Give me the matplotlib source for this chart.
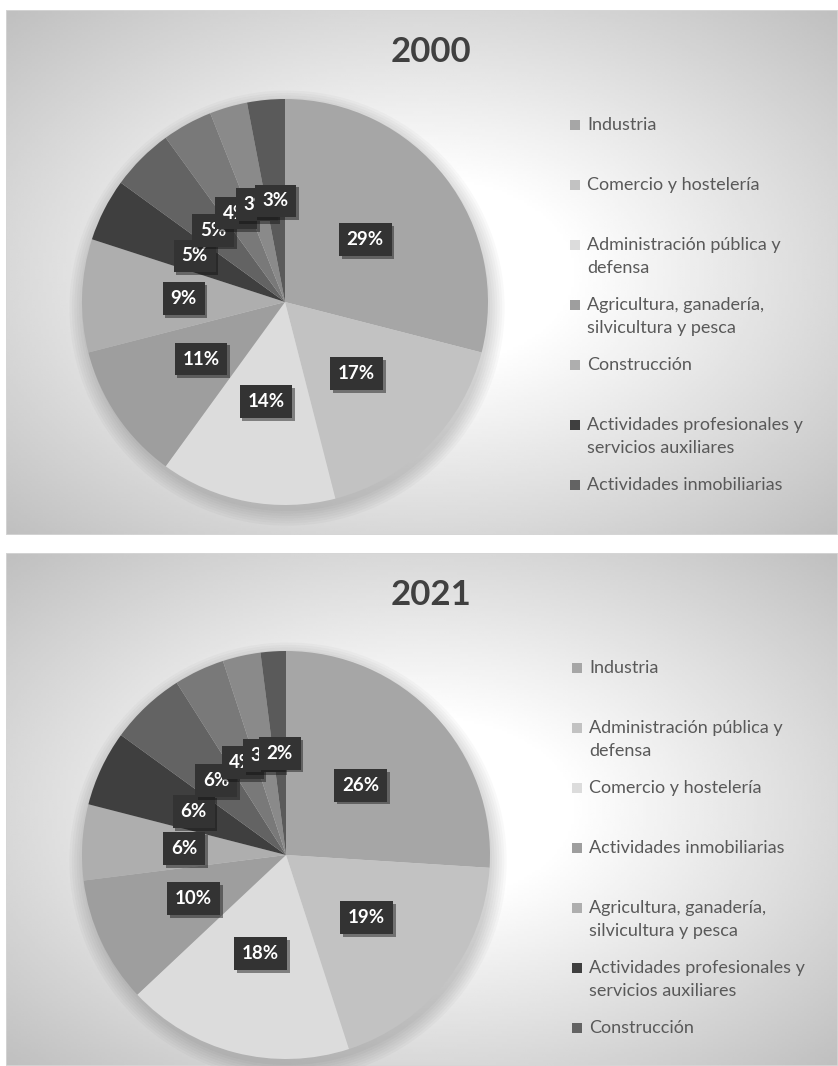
import numpy as np
import matplotlib
matplotlib.use('Agg')
import matplotlib.pyplot as plt
from matplotlib.patches import Rectangle, Circle
from matplotlib import patheffects as pe

plt.rcParams['font.family'] = ['Lato', 'DejaVu Sans']

# Datos: peso de cada sector (%)
years = ['2000', '2021']
sectors_2000 = ['Industria', 'Comercio y hostelería', 'Administración pública y\ndefensa',
                'Agricultura, ganadería,\nsilvicultura y pesca', 'Construcción',
                'Actividades profesionales y\nservicios auxiliares', 'Actividades inmobiliarias']
shares_2000 = [29, 17, 14, 11, 9, 5, 5, 4, 3, 3]
sectors_2021 = ['Industria', 'Administración pública y\ndefensa', 'Comercio y hostelería',
                'Actividades inmobiliarias', 'Agricultura, ganadería,\nsilvicultura y pesca',
                'Actividades profesionales y\nservicios auxiliares', 'Construcción']
shares_2021 = [26, 19, 18, 10, 6, 6, 6, 4, 3, 2]

# paleta gris (por posición de la porción)
grays = ['#a6a6a6', '#c2c2c2', '#dcdcdc', '#9e9e9e', '#aeaeae',
         '#3f3f3f', '#636363', '#797979', '#8a8a8a', '#5a5a5a']

W, H = 838, 1066
fig = plt.figure(figsize=(W / 100, H / 100), dpi=100)
fig.patch.set_facecolor('white')


def fx(px):
    return px / W


def fy(py):
    return 1 - py / H


def panel_bg(top, bottom, left=6, right=838):
    ax = fig.add_axes([fx(left), fy(bottom), fx(right - left), (bottom - top) / H])
    yy, xx = np.mgrid[0:1:200j, 0:1:300j]
    d = np.sqrt(((xx - 0.5) / 0.5) ** 2 + ((yy - 0.5) / 0.5) ** 2) / np.sqrt(2)
    g = 1 - 0.25 * np.clip((d - 0.25) / 0.75, 0, 1)
    ax.imshow(g, cmap='gray', vmin=0, vmax=1, extent=[0, 1, 0, 1], aspect='auto')
    ax.add_patch(Rectangle((0, 0), 1, 1, transform=ax.transAxes, fill=False,
                           edgecolor='#d6d6d6', lw=1.2))
    ax.axis('off')
    return ax


def draw_pie(shares, sectors, title, top, bottom, cx, cy, r, leg_y0, leg_x):
    panel_bg(top, bottom)
    fig.text(fx(431), fy(top + 42), title, ha='center', va='center', fontsize=25,
             fontweight='bold', color='#404040')

    ax = fig.add_axes([fx(cx - r), fy(cy + r), 2 * r / W, 2 * r / H])
    ax.patch.set_alpha(0)
    # sombra suave bajo la tarta
    for k in range(7):
        ax.add_patch(Circle((0.01, -0.03), 1.0 + 0.012 * k, color='black', alpha=0.022,
                            lw=0, clip_on=False))
    wedges, _, autotexts = ax.pie(
        shares, colors=grays[:len(shares)], startangle=90, counterclock=False,
        radius=1, autopct='%1.0f%%', pctdistance=0.5,
        wedgeprops=dict(linewidth=0),
        textprops=dict(color='white', fontsize=13.5, fontweight='bold',
                       bbox=dict(boxstyle='square,pad=0.42', fc='#333333', ec='none')))
    for t in autotexts:
        t.get_bbox_patch().set_path_effects([pe.SimplePatchShadow(offset=(2, -2), alpha=0.45),
                                             pe.Normal()])
    ax.set_xlim(-1, 1)
    ax.set_ylim(-1, 1)
    ax.axis('off')

    # leyenda (solo los 7 sectores con nombre)
    slot = 60
    for i, name in enumerate(sectors):
        y = leg_y0 + i * slot
        fig.patches.append(Rectangle((fx(leg_x), fy(y + 5)), fx(10), 10 / H,
                                     transform=fig.transFigure, fc=wedges[i].get_facecolor(),
                                     ec='none'))
        for j, line in enumerate(name.split('\n')):
            fig.text(fx(leg_x + 17), fy(y + j * 23), line, ha='left', va='center',
                     fontsize=13, color='#595959')


draw_pie(shares_2000, sectors_2000, years[0], 10, 535, 285, 302, 203, 125, 570)
draw_pie(shares_2021, sectors_2021, years[1], 553, 1066, 286, 855, 204, 668, 572)

fig.savefig('out.png', dpi=100)
